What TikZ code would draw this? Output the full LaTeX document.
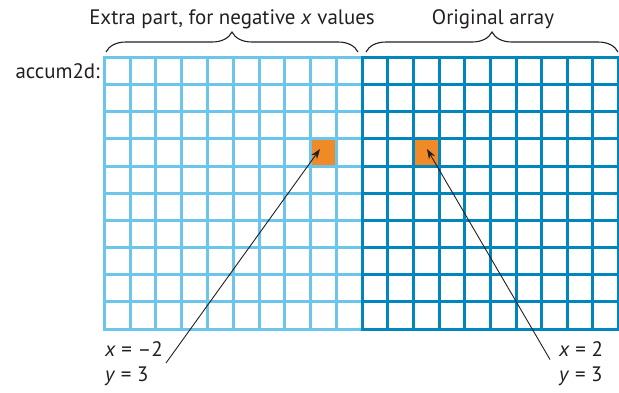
\documentclass[tikz,border=0pt]{standalone}
\usepackage{fontspec}
\setmainfont{PT Sans}
\usetikzlibrary{arrows.meta,decorations.pathreplacing}
\definecolor{lightgrid}{RGB}{108,197,235}
\definecolor{darkgrid}{RGB}{0,134,190}
\definecolor{cellorange}{RGB}{240,138,38}
\definecolor{ink}{RGB}{35,31,32}
\begin{document}
\begin{tikzpicture}[x=1bp,y=-1bp,
  txt/.style={font=\fontsize{21}{25}\selectfont, text=ink, inner sep=0pt},
  lightline/.style={draw=lightgrid, line width=3bp, line cap=rect},
  darkline/.style={draw=darkgrid, line width=3bp, line cap=rect},
  hotcell/.style={fill=cellorange, draw=none, minimum width=25.7bp, minimum height=27.15bp, inner sep=0pt},
  bracepath/.style={draw=ink, line width=1.1bp, decorate, decoration={brace, amplitude=20bp}},
  pointer/.style={draw=ink, line width=0.9bp, -{Stealth[length=10bp,width=7bp]}}]
\useasboundingbox (0,0) rectangle (619,392);

% highlighted cells
\node[hotcell] (cellL) at (323.6,152.5) {};
\node[hotcell] (cellR) at (426.4,152.5) {};

% left (extra) grid
\foreach \i in {0,...,9} {
  \draw[lightline] ({104.3+\i*25.8},57.5) -- ({104.3+\i*25.8},329);
}
\foreach \j in {0,...,10} {
  \draw[lightline] (104.3,{57.5+\j*27.15}) -- (362.3,{57.5+\j*27.15});
}
% right (original) grid
\foreach \i in {0,...,10} {
  \draw[darkline] ({362.3+\i*25.63},57.5) -- ({362.3+\i*25.63},329);
}
\foreach \j in {0,...,10} {
  \draw[darkline] (362.3,{57.5+\j*27.15}) -- (618.6,{57.5+\j*27.15});
}

% braces
\draw[bracepath] (106,52) -- (358,52);
\draw[bracepath] (366,52) -- (618,52);

% texts
\node[txt, anchor=base] (extra) at (232,24) {Extra part, for negative \textit{x} values};
\node[txt, anchor=base] (orig) at (493,24) {Original array};
\node[txt, anchor=base east] (name) at (100,78) {accum2d:};

\node[txt, anchor=base west] (lxa) at (105,356) {\textit{x} = –2};
\node[txt, anchor=base west] (lya) at (105,381) {\textit{y} = 3};
\node[txt, anchor=base west] (rxa) at (559,356) {\textit{x} = 2};
\node[txt, anchor=base west] (rya) at (559,381) {\textit{y} = 3};

% pointers
\coordinate (startL) at (166,363);
\coordinate (tipL) at (320,149);
\coordinate (startR) at (550,359.5);
\coordinate (tipR) at (427,149);
\draw[pointer] (startL) -- (tipL);
\draw[pointer] (startR) -- (tipR);
\end{tikzpicture}
\end{document}
